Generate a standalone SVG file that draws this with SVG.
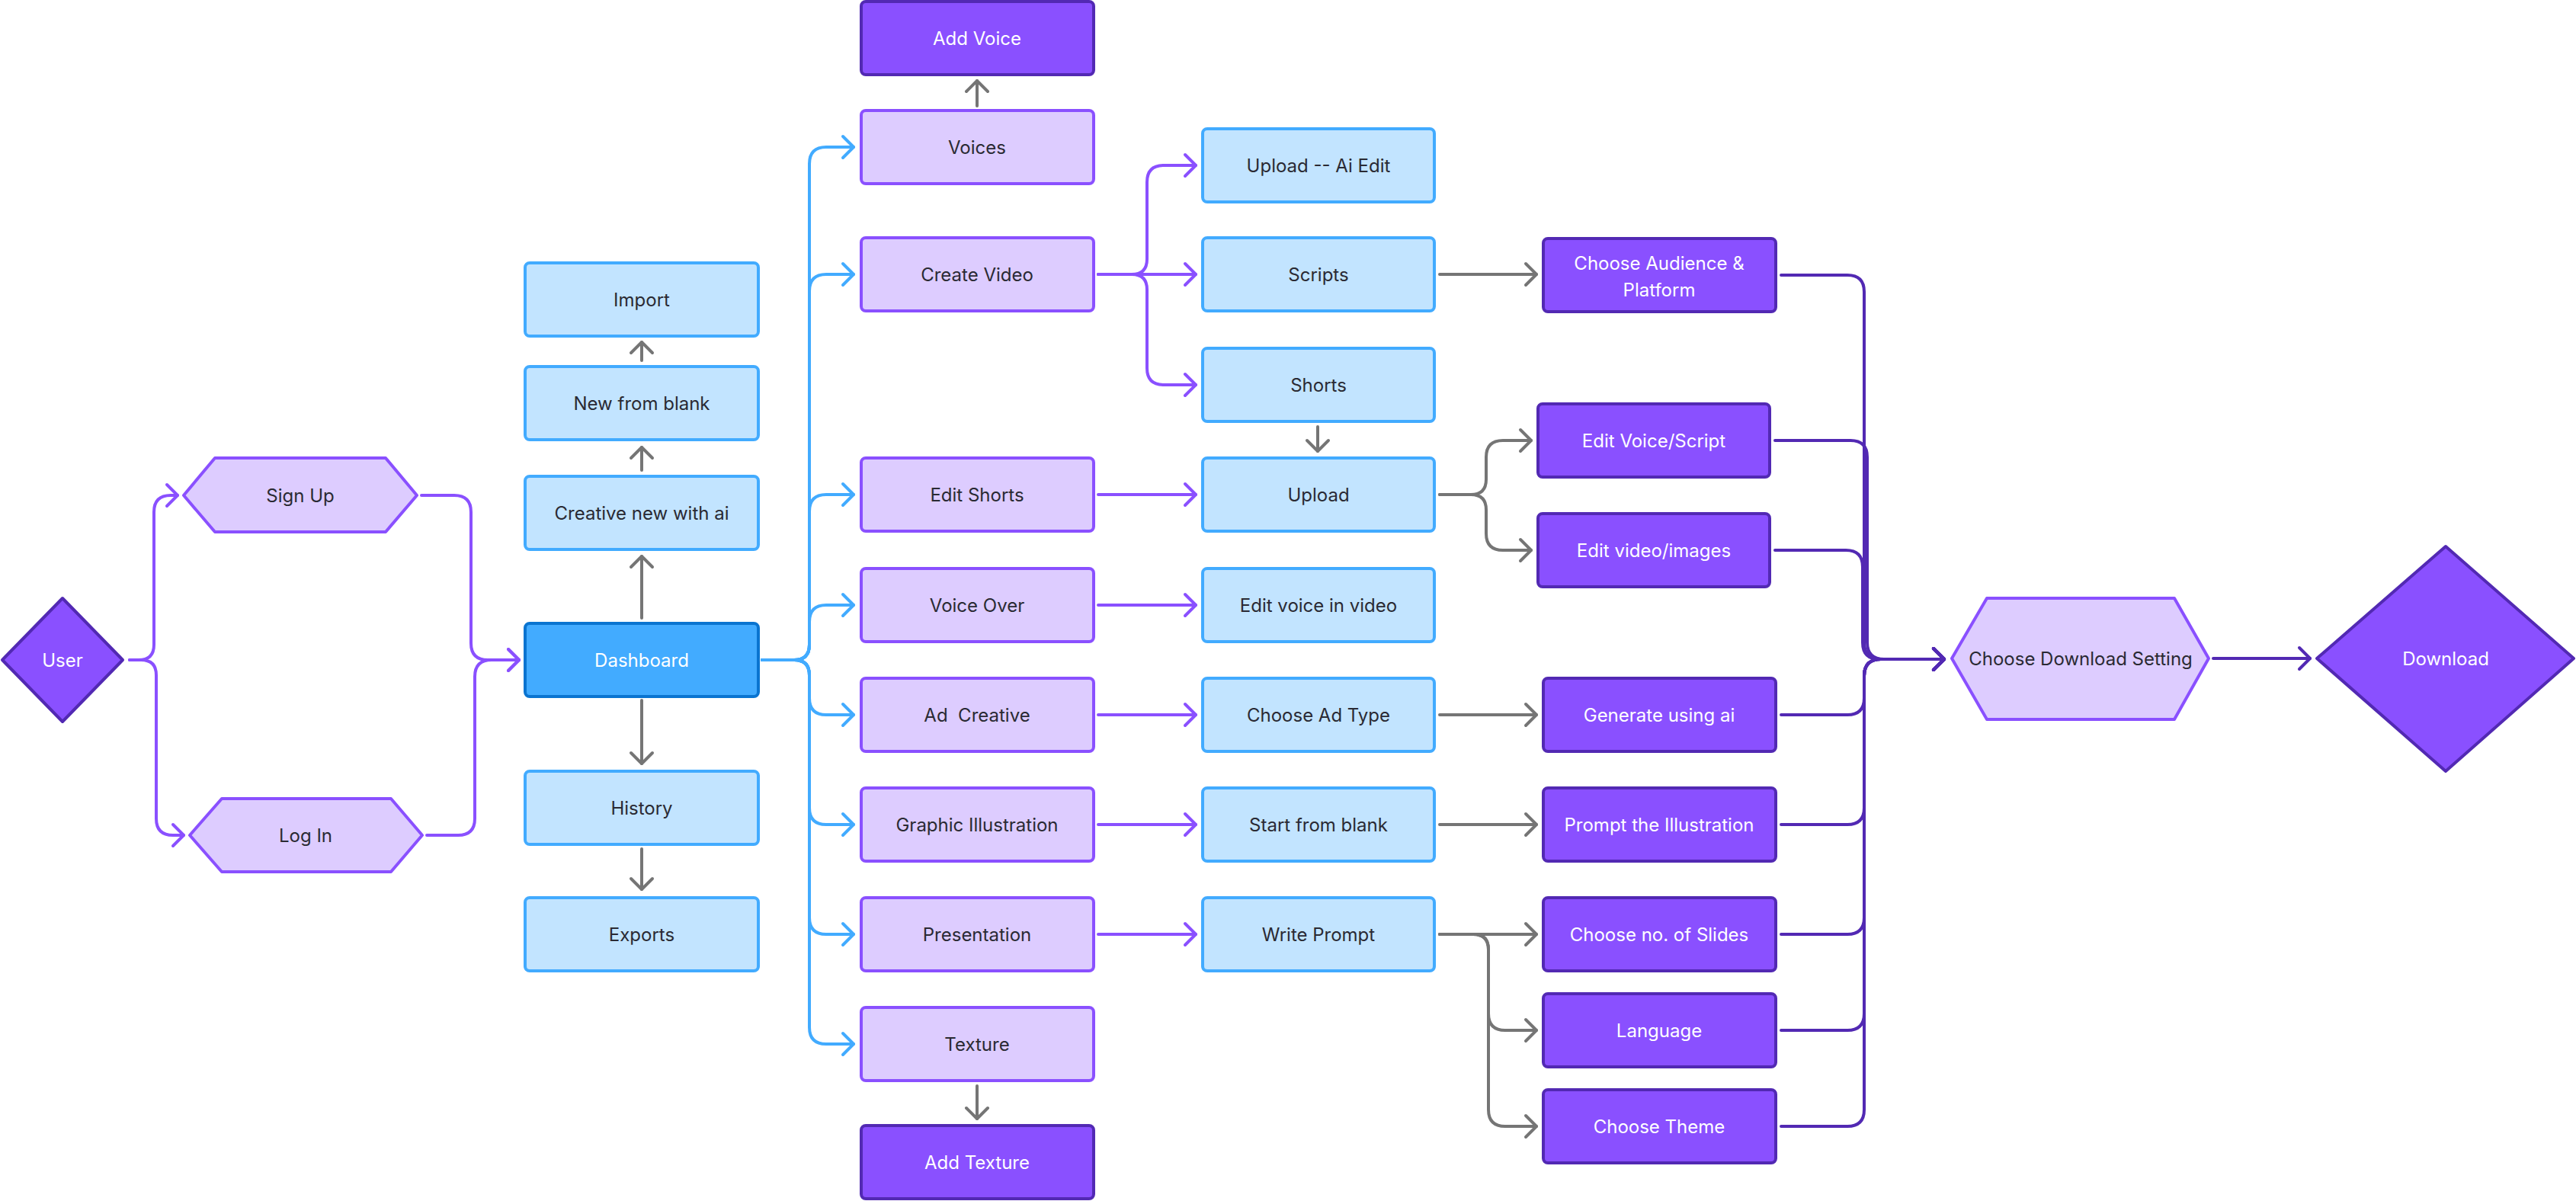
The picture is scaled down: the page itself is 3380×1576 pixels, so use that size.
<svg xmlns="http://www.w3.org/2000/svg" width="3380" height="1576" viewBox="0 0 3380 1576">
<style>
.lp{fill:#DDCCFF;stroke:#8A50FF;stroke-width:4;stroke-linejoin:round}
.dp{fill:#8A50FF;stroke:#5229B3;stroke-width:4;stroke-linejoin:round}
.lb{fill:#C2E4FF;stroke:#42ABFF;stroke-width:4;stroke-linejoin:round}
.db{fill:#42ABFF;stroke:#0A74D0;stroke-width:4;stroke-linejoin:round}
.t{font-family:Inter,"Noto Sans","Liberation Sans",sans-serif;font-size:24px;fill:#2A2A33;text-anchor:middle}
.w{fill:#FFFFFF}
.c{fill:none;stroke-width:4;stroke-linecap:round;stroke-linejoin:round}
.cp{stroke:#8A50FF;marker-end:url(#mp)}
.cb{stroke:#42ABFF;marker-end:url(#mb)}
.cg{stroke:#757575;marker-end:url(#mg)}
.cd{stroke:#5229B3;marker-end:url(#md)}
</style>
<defs>
<marker id="mp" viewBox="-20 -20 40 40" markerWidth="40" markerHeight="40" refX="0" refY="0" orient="auto" markerUnits="userSpaceOnUse"><path d="M-14,-14 L0,0 L-14,14" fill="none" stroke="#8A50FF" stroke-width="4" stroke-linecap="round" stroke-linejoin="round"/></marker>
<marker id="mb" viewBox="-20 -20 40 40" markerWidth="40" markerHeight="40" refX="0" refY="0" orient="auto" markerUnits="userSpaceOnUse"><path d="M-14,-14 L0,0 L-14,14" fill="none" stroke="#42ABFF" stroke-width="4" stroke-linecap="round" stroke-linejoin="round"/></marker>
<marker id="mg" viewBox="-20 -20 40 40" markerWidth="40" markerHeight="40" refX="0" refY="0" orient="auto" markerUnits="userSpaceOnUse"><path d="M-14,-14 L0,0 L-14,14" fill="none" stroke="#757575" stroke-width="4" stroke-linecap="round" stroke-linejoin="round"/></marker>
<marker id="md" viewBox="-20 -20 40 40" markerWidth="40" markerHeight="40" refX="0" refY="0" orient="auto" markerUnits="userSpaceOnUse"><path d="M-14,-14 L0,0 L-14,14" fill="none" stroke="#5229B3" stroke-width="4" stroke-linecap="round" stroke-linejoin="round"/></marker>
</defs>
<rect width="3380" height="1576" fill="#FFFFFF"/>

<g id="connectors">
<path class="c cp" d="M170,866 H182 Q202,866 202,846 V672 Q202,650 224,650 H233"/>
<path class="c cp" d="M170,866 H185 Q205,866 205,886 V1074 Q205,1096 227,1096 H241"/>
<path class="c cp" d="M553,650 H596 Q618,650 618,672 V844 Q618,866 640,866 H681"/>
<path class="c cp" d="M560,1096 H601 Q623,1096 623,1074 V888 Q623,866 645,866 H681"/>
<path class="c cg" d="M842,811 V730"/>
<path class="c cg" d="M842,617 V587"/>
<path class="c cg" d="M842,473 V449"/>
<path class="c cg" d="M842,919 V1002"/>
<path class="c cg" d="M842,1114 V1167"/>
<path class="c cb" d="M1000,866 H1042 Q1062,866 1062,846 V215 Q1062,193 1084,193 H1120"/>
<path class="c cb" d="M1000,866 H1042 Q1062,866 1062,846 V382 Q1062,360 1084,360 H1120"/>
<path class="c cb" d="M1000,866 H1042 Q1062,866 1062,846 V671 Q1062,649 1084,649 H1120"/>
<path class="c cb" d="M1000,866 H1042 Q1062,866 1062,846 V816 Q1062,794 1084,794 H1120"/>
<path class="c cb" d="M1000,866 H1042 Q1062,866 1062,886 V916 Q1062,938 1084,938 H1120"/>
<path class="c cb" d="M1000,866 H1042 Q1062,866 1062,886 V1060 Q1062,1082 1084,1082 H1120"/>
<path class="c cb" d="M1000,866 H1042 Q1062,866 1062,886 V1204 Q1062,1226 1084,1226 H1120"/>
<path class="c cb" d="M1000,866 H1042 Q1062,866 1062,886 V1348 Q1062,1370 1084,1370 H1120"/>
<path class="c cg" d="M1282,139 V106"/>
<path class="c cg" d="M1282,1425 V1468"/>
<path class="c cp" d="M1441,360 H1485 Q1505,360 1505,340 V239 Q1505,217 1527,217 H1569"/>
<path class="c cp" d="M1441,360 H1569"/>
<path class="c cp" d="M1441,360 H1485 Q1505,360 1505,380 V483 Q1505,505 1527,505 H1569"/>
<path class="c cp" d="M1441,649 H1569"/>
<path class="c cp" d="M1441,794 H1569"/>
<path class="c cp" d="M1441,938 H1569"/>
<path class="c cp" d="M1441,1082 H1569"/>
<path class="c cp" d="M1441,1226 H1569"/>
<path class="c cg" d="M1729,560 V592"/>
<path class="c cg" d="M1889,360 H2016"/>
<path class="c cg" d="M1889,649 H1930 Q1950,649 1950,629 V600 Q1950,578 1972,578 H2009"/>
<path class="c cg" d="M1889,649 H1930 Q1950,649 1950,669 V700 Q1950,722 1972,722 H2009"/>
<path class="c cg" d="M1889,938 H2016"/>
<path class="c cg" d="M1889,1082 H2016"/>
<path class="c cg" d="M1889,1226 H2016"/>
<path class="c cg" d="M1889,1226 H1933 Q1953,1226 1953,1246 V1330 Q1953,1352 1975,1352 H2016"/>
<path class="c cg" d="M1889,1226 H1933 Q1953,1226 1953,1246 V1456 Q1953,1478 1975,1478 H2016"/>
<path class="c cd" d="M2337,361 H2424 Q2446,361 2446,383 V843 Q2446,865 2468,865 H2551"/>
<path class="c cd" d="M2329,578 H2428 Q2450,578 2450,600 V843 Q2450,865 2472,865 H2551"/>
<path class="c cd" d="M2329,722 H2422 Q2444,722 2444,744 V843 Q2444,865 2466,865 H2551"/>
<path class="c cd" d="M2337,938 H2424 Q2446,938 2446,916 V887 Q2446,865 2468,865 H2551"/>
<path class="c cd" d="M2337,1082 H2424 Q2446,1082 2446,1060 V887 Q2446,865 2468,865 H2551"/>
<path class="c cd" d="M2337,1226 H2424 Q2446,1226 2446,1204 V887 Q2446,865 2468,865 H2551"/>
<path class="c cd" d="M2337,1352 H2424 Q2446,1352 2446,1330 V887 Q2446,865 2468,865 H2551"/>
<path class="c cd" d="M2337,1478 H2424 Q2446,1478 2446,1456 V887 Q2446,865 2468,865 H2551"/>
<path class="c cd" d="M2904,864 H3031"/>
</g>

<g id="user"><polygon class="dp" points="3,866 82,785 161,866 82,947"/><text class="t w" x="82" y="875">User</text></g>
<g id="signup"><polygon class="lp" points="241,650 282,601 506,601 547,650 506,698 282,698"/><text class="t" x="394" y="659">Sign Up</text></g>
<g id="login"><polygon class="lp" points="249,1096 291,1048 513,1048 554,1096 513,1144 291,1144"/><text class="t" x="401" y="1105">Log In</text></g>

<g id="import"><rect class="lb" x="689" y="345" width="306" height="96" rx="6"/><text class="t" x="842" y="402">Import</text></g>
<g id="new-from-blank"><rect class="lb" x="689" y="481" width="306" height="96" rx="6"/><text class="t" x="842" y="538">New from blank</text></g>
<g id="creative-new-ai"><rect class="lb" x="689" y="625" width="306" height="96" rx="6"/><text class="t" x="842" y="682">Creative new with ai</text></g>
<g id="dashboard"><rect class="db" x="689" y="818" width="306" height="96" rx="6"/><text class="t w" x="842" y="875">Dashboard</text></g>
<g id="history"><rect class="lb" x="689" y="1012" width="306" height="96" rx="6"/><text class="t" x="842" y="1069">History</text></g>
<g id="exports"><rect class="lb" x="689" y="1178" width="306" height="96" rx="6"/><text class="t" x="842" y="1235">Exports</text></g>

<g id="add-voice"><rect class="dp" x="1130" y="2" width="305" height="96" rx="6"/><text class="t w" x="1282" y="59">Add Voice</text></g>
<g id="voices"><rect class="lp" x="1130" y="145" width="305" height="96" rx="6"/><text class="t" x="1282" y="202">Voices</text></g>
<g id="create-video"><rect class="lp" x="1130" y="312" width="305" height="96" rx="6"/><text class="t" x="1282" y="369">Create Video</text></g>
<g id="edit-shorts"><rect class="lp" x="1130" y="601" width="305" height="96" rx="6"/><text class="t" x="1282" y="658">Edit Shorts</text></g>
<g id="voice-over"><rect class="lp" x="1130" y="746" width="305" height="96" rx="6"/><text class="t" x="1282" y="803">Voice Over</text></g>
<g id="ad-creative"><rect class="lp" x="1130" y="890" width="305" height="96" rx="6"/><text class="t" x="1282" y="947" xml:space="preserve">Ad  Creative</text></g>
<g id="graphic-illustration"><rect class="lp" x="1130" y="1034" width="305" height="96" rx="6"/><text class="t" x="1282" y="1091">Graphic Illustration</text></g>
<g id="presentation"><rect class="lp" x="1130" y="1178" width="305" height="96" rx="6"/><text class="t" x="1282" y="1235">Presentation</text></g>
<g id="texture"><rect class="lp" x="1130" y="1322" width="305" height="96" rx="6"/><text class="t" x="1282" y="1379">Texture</text></g>
<g id="add-texture"><rect class="dp" x="1130" y="1477" width="305" height="96" rx="6"/><text class="t w" x="1282" y="1534">Add Texture</text></g>

<g id="upload-ai-edit"><rect class="lb" x="1578" y="169" width="304" height="96" rx="6"/><text class="t" x="1730" y="226">Upload -- Ai Edit</text></g>
<g id="scripts"><rect class="lb" x="1578" y="312" width="304" height="96" rx="6"/><text class="t" x="1730" y="369">Scripts</text></g>
<g id="shorts"><rect class="lb" x="1578" y="457" width="304" height="96" rx="6"/><text class="t" x="1730" y="514">Shorts</text></g>
<g id="upload"><rect class="lb" x="1578" y="601" width="304" height="96" rx="6"/><text class="t" x="1730" y="658">Upload</text></g>
<g id="edit-voice-video"><rect class="lb" x="1578" y="746" width="304" height="96" rx="6"/><text class="t" x="1730" y="803">Edit voice in video</text></g>
<g id="choose-ad-type"><rect class="lb" x="1578" y="890" width="304" height="96" rx="6"/><text class="t" x="1730" y="947">Choose Ad Type</text></g>
<g id="start-from-blank"><rect class="lb" x="1578" y="1034" width="304" height="96" rx="6"/><text class="t" x="1730" y="1091">Start from blank</text></g>
<g id="write-prompt"><rect class="lb" x="1578" y="1178" width="304" height="96" rx="6"/><text class="t" x="1730" y="1235">Write Prompt</text></g>

<g id="choose-audience"><rect class="dp" x="2025" y="313" width="305" height="96" rx="6"/><text class="t w" x="2177" y="354">Choose Audience &amp;</text><text class="t w" x="2177" y="389">Platform</text></g>
<g id="edit-voice-script"><rect class="dp" x="2018" y="530" width="304" height="96" rx="6"/><text class="t w" x="2170" y="587">Edit Voice/Script</text></g>
<g id="edit-video-images"><rect class="dp" x="2018" y="674" width="304" height="96" rx="6"/><text class="t w" x="2170" y="731">Edit video/images</text></g>
<g id="generate-ai"><rect class="dp" x="2025" y="890" width="305" height="96" rx="6"/><text class="t w" x="2177" y="947">Generate using ai</text></g>
<g id="prompt-illustration"><rect class="dp" x="2025" y="1034" width="305" height="96" rx="6"/><text class="t w" x="2177" y="1091">Prompt the Illustration</text></g>
<g id="choose-slides"><rect class="dp" x="2025" y="1178" width="305" height="96" rx="6"/><text class="t w" x="2177" y="1235">Choose no. of Slides</text></g>
<g id="language"><rect class="dp" x="2025" y="1304" width="305" height="96" rx="6"/><text class="t w" x="2177" y="1361">Language</text></g>
<g id="choose-theme"><rect class="dp" x="2025" y="1430" width="305" height="96" rx="6"/><text class="t w" x="2177" y="1487">Choose Theme</text></g>

<g id="download-setting"><polygon class="lp" points="2561,864 2607,785 2853,785 2898,864 2853,944 2607,944"/><text class="t" x="2730" y="873">Choose Download Setting</text></g>
<g id="download"><polygon class="dp" points="3040,864 3209,717 3377,864 3209,1012"/><text class="t w" x="3209" y="873">Download</text></g>
</svg>
